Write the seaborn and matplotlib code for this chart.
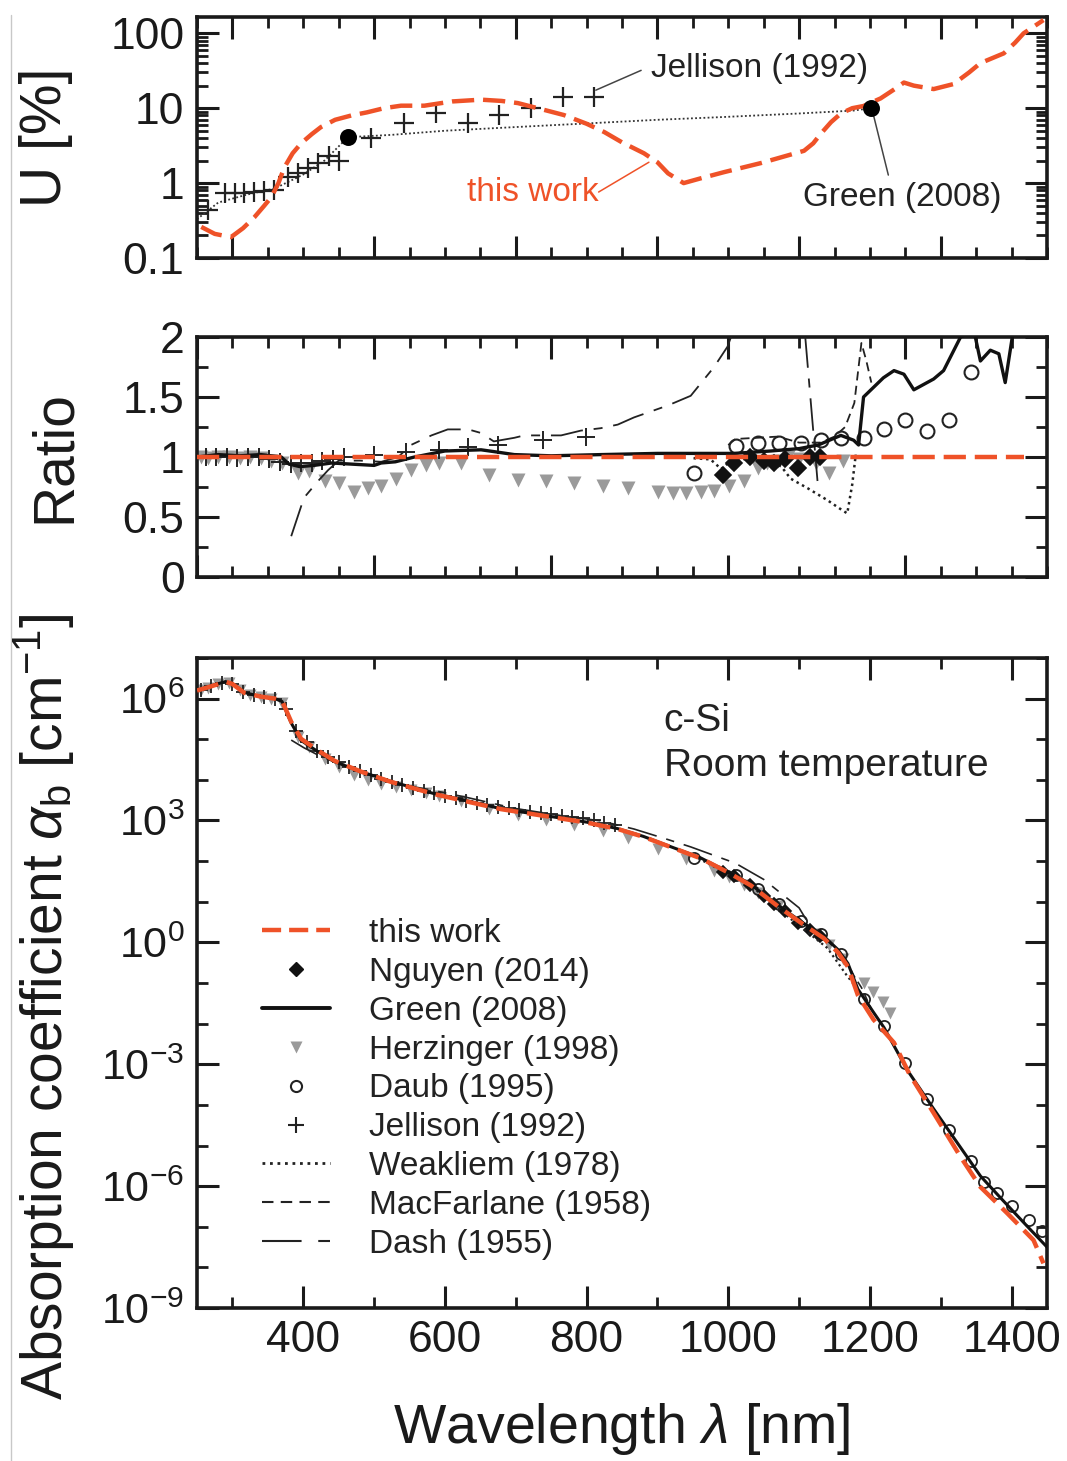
import numpy as np
import matplotlib
matplotlib.use("Agg")
import matplotlib.pyplot as plt
import seaborn as sns
from matplotlib.lines import Line2D
from matplotlib.ticker import FixedLocator, MultipleLocator, NullFormatter, FixedFormatter, LogLocator

# ---------------- data ----------------
# Top panel: relative uncertainty U [%]
this_u_nm = [256, 275, 298, 315, 331, 345, 355, 365, 373, 385, 397, 412, 425, 445, 468, 490, 514, 538, 571,
             610, 651, 680, 703, 740, 768, 800, 825, 850, 881, 900, 915, 937, 960, 994, 1046, 1107, 1120,
             1131, 1145, 1159, 1175, 1191, 1215, 1235, 1248, 1262, 1290, 1318, 1340, 1356, 1389, 1405,
             1417, 1445]
this_u = [0.26, 0.21, 0.19, 0.25, 0.35, 0.5, 0.65, 1.0, 1.6, 2.5, 3.4, 4.5, 5.6, 7.0, 8.0, 8.8, 10.0, 10.8,
          10.8, 12.3, 13.0, 12.5, 11.7, 9.5, 8.1, 6.2, 4.8, 3.5, 2.5, 1.9, 1.35, 1.0, 1.15, 1.4, 1.85, 2.7,
          3.4, 4.6, 6.5, 8.5, 10.0, 10.7, 13.5, 18.0, 22.0, 20.0, 18.0, 21.0, 30.0, 40.0, 54.0, 75.0,
          100.0, 150.0]
green_u_line_nm = [250, 280, 320, 360, 400, 430, 463, 524, 600, 700, 806, 900, 990, 1100, 1177, 1201]
green_u_line = [0.33, 0.55, 0.7, 0.85, 1.3, 2.0, 4.1, 4.4, 5.0, 5.6, 6.3, 7.0, 7.6, 8.5, 9.3, 10.0]
green_u_pts_nm = [463, 1201]
green_u_pts = [4.1, 10.0]
jel_u_nm = [266, 289, 303, 317, 331, 345, 359, 379, 393, 407, 421, 437, 451, 496, 542, 588, 633, 676,
            722, 767, 810]
jel_u = [0.44, 0.74, 0.74, 0.74, 0.76, 0.78, 0.8, 1.2, 1.35, 1.6, 1.85, 2.3, 2.0, 4.0, 6.3, 8.5, 6.3, 8.1,
         10.0, 14.0, 14.0]

# Middle panel: ratio to this work
this_r_nm = [250, 1418]
this_r = [1.0, 1.0]
green_r_nm = [250, 280, 310, 340, 369, 380, 395, 415, 440, 470, 500, 510, 530, 557, 600, 651, 675, 698,
              750, 820, 900, 1008, 1060, 1100, 1127, 1159, 1177, 1184, 1191, 1219, 1234, 1248, 1262, 1290,
              1304, 1328, 1347, 1356, 1370, 1382, 1391, 1401, 1410]
green_r = [1.0, 1.02, 1.01, 1.02, 1.0, 0.94, 0.92, 0.93, 0.95, 0.94, 0.93, 0.95, 0.96, 1.0, 1.05, 1.06, 1.04,
           1.02, 1.01, 1.02, 1.03, 1.03, 1.05, 1.07, 1.1, 1.18, 1.14, 1.1, 1.5, 1.66, 1.72, 1.69, 1.56,
           1.65, 1.72, 2.0, 2.05, 1.8, 1.89, 1.86, 1.62, 2.0, 2.2]
herz_r_nm = [255, 265, 280, 295, 310, 325, 340, 355, 370, 393, 408, 430, 451, 472, 492, 510, 531, 552,
             573, 592, 623, 662, 703, 743, 782, 823, 858, 901, 922, 940, 961, 980, 1001, 1022, 1042, 1055,
             1070, 1085, 1100, 1124, 1142, 1162]
herz_r = [1.0, 0.99, 1.0, 1.0, 0.99, 1.0, 0.99, 0.97, 0.95, 0.87, 0.88, 0.8, 0.78, 0.71, 0.74, 0.76, 0.82,
          0.89, 0.93, 0.95, 0.95, 0.85, 0.81, 0.80, 0.78, 0.76, 0.74, 0.71, 0.70, 0.70, 0.71, 0.72, 0.76,
          0.80, 0.91, 0.95, 0.97, 1.0, 0.98, 0.95, 0.87, 0.97]
daub_r_nm = [951, 1011, 1042, 1071, 1102, 1131, 1159, 1191, 1220, 1250, 1281, 1311, 1342]
daub_r = [0.87, 1.09, 1.12, 1.12, 1.12, 1.14, 1.16, 1.16, 1.23, 1.31, 1.22, 1.31, 1.71]
nguyen_r_nm = [992, 1008, 1030, 1050, 1064, 1080, 1098, 1115, 1130]
nguyen_r = [0.85, 0.95, 1.0, 0.97, 0.95, 0.98, 0.91, 1.0, 1.0]
jel_r_nm = [262, 277, 292, 307, 322, 337, 352, 367, 382, 397, 412, 427, 442, 457, 500, 545, 591, 633, 675,
            738, 799]
jel_r = [1.0, 1.0, 1.0, 0.99, 1.0, 1.0, 0.98, 0.96, 0.94, 0.95, 0.95, 0.97, 0.98, 1.0, 1.02, 1.04, 1.06,
         1.08, 1.1, 1.14, 1.17]
weak_r_nm = [951, 975, 990, 1000, 1020, 1050, 1075, 1088, 1112, 1140, 1160, 1168, 1175, 1180]
weak_r = [0.99, 0.98, 0.9, 0.95, 0.98, 1.0, 0.92, 0.82, 0.74, 0.64, 0.56, 0.53, 0.77, 1.02]
macf_r_nm = [1000, 1010, 1040, 1070, 1100, 1130, 1150, 1165, 1178, 1188, 1195, 1202]
macf_r = [1.1, 1.15, 1.16, 1.17, 1.12, 1.12, 1.17, 1.25, 1.45, 1.95, 1.8, 1.62]
dash_r_nm = [383, 401, 421, 435, 450, 480, 510, 534, 552, 581, 604, 633, 651, 669, 698, 712, 764, 792,
             820, 844, 867, 915, 947, 980, 999, 1010, 1060, 1108, 1126]
dash_r = [0.34, 0.66, 0.8, 0.89, 0.97, 0.97, 0.96, 1.0, 1.1, 1.18, 1.23, 1.23, 1.2, 1.13, 1.16, 1.18, 1.18,
          1.22, 1.24, 1.27, 1.33, 1.43, 1.51, 1.75, 1.92, 2.1, 2.6, 2.05, 0.8]

# Bottom panel: absorption coefficient, log10(alpha / cm^-1)
this_a_nm = [250, 260, 275, 290, 300, 317, 340, 360, 370, 383, 397, 421, 444, 482, 524, 585, 633, 679, 745,
             800, 844, 880, 915, 961, 999, 1032, 1070, 1102, 1135, 1155, 1169, 1183, 1205, 1234, 1256,
             1290, 1328, 1356, 1394, 1431, 1445]
this_a_log = [6.2, 6.25, 6.33, 6.42, 6.36, 6.14, 6.05, 6.0, 5.95, 5.43, 5.01, 4.72, 4.47, 4.2, 3.95, 3.65,
              3.46, 3.28, 3.1, 2.95, 2.79, 2.6, 2.37, 2.07, 1.73, 1.4, 0.89, 0.49, 0.1, -0.25, -0.6, -1.3,
              -1.9, -2.47, -3.25, -4.2, -5.28, -6.02, -6.67, -7.33, -7.9]
green_a_nm = [250, 260, 275, 290, 300, 317, 340, 360, 370, 383, 397, 421, 444, 482, 524, 585, 633, 679, 745,
              800, 844, 880, 915, 961, 999, 1032, 1070, 1102, 1135, 1155, 1169, 1183, 1205, 1220, 1253,
              1290, 1330, 1356, 1385, 1420, 1450]
green_a_log = [6.2, 6.26, 6.34, 6.42, 6.37, 6.15, 6.05, 6.0, 5.93, 5.4, 4.97, 4.69, 4.45, 4.2, 3.96, 3.66,
               3.48, 3.29, 3.11, 2.96, 2.8, 2.61, 2.38, 2.08, 1.74, 1.42, 0.92, 0.52, 0.15, -0.18, -0.52,
               -1.15, -1.72, -2.1, -3.15, -4.1, -5.1, -5.75, -6.3, -6.95, -7.5]
herz_a_nm = [255, 265, 280, 295, 310, 325, 340, 355, 370, 393, 408, 430, 451, 472, 492, 510, 531, 552, 573,
             592, 623, 662, 703, 743, 782, 823, 858, 901, 940, 980, 1001, 1022, 1042, 1070, 1124, 1142,
             1162, 1191, 1205, 1218, 1229]
herz_a_log = [6.22, 6.27, 6.36, 6.38, 6.22, 6.1, 6.05, 6.0, 5.88, 5.06, 4.82, 4.52, 4.31, 4.11, 4.0, 3.9,
              3.82, 3.76, 3.68, 3.61, 3.48, 3.28, 3.13, 3.0, 2.89, 2.75, 2.57, 2.31, 2.05, 1.75, 1.6, 1.4,
              1.22, 0.89, 0.2, -0.06, -0.41, -0.99, -1.23, -1.46, -1.73]
daub_a_nm = [951, 1011, 1042, 1071, 1102, 1131, 1159, 1191, 1220, 1250, 1281, 1311, 1342, 1361, 1380, 1401,
             1424, 1443]
daub_a_log = [2.07, 1.66, 1.31, 0.94, 0.53, 0.21, -0.29, -1.39, -2.06, -2.98, -3.86, -4.63, -5.37, -5.9,
              -6.17, -6.5, -6.84, -7.1]
nguyen_a_nm = [992, 1008, 1030, 1050, 1064, 1080, 1098, 1115, 1130]
nguyen_a_log = [1.73, 1.63, 1.42, 1.14, 0.95, 0.76, 0.48, 0.3, 0.16]
jel_a_nm = [255, 270, 285, 300, 315, 330, 345, 360, 375, 390, 405, 420, 435, 450, 465, 480, 495, 510, 525,
            540, 555, 570, 585, 600, 615, 630, 645, 660, 675, 690, 705, 720, 735, 750, 765, 780, 795, 810,
            825, 840]
jel_a_log = [6.22, 6.3, 6.38, 6.36, 6.17, 6.08, 6.04, 6.0, 5.75, 5.2, 4.92, 4.72, 4.56, 4.43, 4.32, 4.21,
             4.12, 4.03, 3.95, 3.87, 3.8, 3.73, 3.67, 3.61, 3.55, 3.49, 3.43, 3.38, 3.34, 3.3, 3.26, 3.22,
             3.19, 3.15, 3.12, 3.08, 3.05, 3.0, 2.94, 2.88]
weak_a_nm = [951, 990, 1020, 1050, 1088, 1112, 1140, 1168, 1180]
weak_a_log = [2.13, 1.77, 1.52, 1.15, 0.58, 0.25, -0.14, -0.83, -1.09]
macf_a_nm = [1000, 1040, 1070, 1100, 1130, 1150, 1165, 1178, 1188, 1202]
macf_a_log = [1.77, 1.36, 0.97, 0.55, 0.2, -0.13, -0.4, -0.84, -1.11, -1.64]
dash_a_nm = [383, 401, 421, 440, 480, 534, 581, 633, 698, 764, 820, 867, 915, 947, 980, 1010, 1050, 1100,
             1126]
dash_a_log = [4.98, 4.79, 4.61, 4.47, 4.19, 3.9, 3.75, 3.56, 3.3, 3.12, 2.99, 2.79, 2.53, 2.35, 2.14, 1.95,
              1.55, 0.85, 0.1]

legend_labels = ["this work", "Nguyen (2014)", "Green (2008)", "Herzinger (1998)", "Daub (1995)",
                 "Jellison (1992)", "Weakliem (1978)", "MacFarlane (1958)", "Dash (1955)"]

# ---------------- style ----------------
sns.set_theme(style="ticks")
plt.rcParams["font.family"] = ["Liberation Sans", "DejaVu Sans"]
plt.rcParams["mathtext.fontset"] = "custom"
plt.rcParams["mathtext.rm"] = "Liberation Sans"
plt.rcParams["mathtext.it"] = "Liberation Sans:italic"
plt.rcParams["mathtext.bf"] = "Liberation Sans:bold"

ORANGE = "#EF5228"
GRAY = "#9a9a9a"
INK = "#1a1a1a"
DASH_THIS = (0, (5, 2))

W, H = 1067, 1461
fig = plt.figure(figsize=(W / 100, H / 100), dpi=100)


def axpos(l, t, r, b):
    return [l / W, 1 - b / H, (r - l) / W, (b - t) / H]


ax1 = fig.add_axes(axpos(197, 17, 1047, 258))
ax2 = fig.add_axes(axpos(197, 337, 1047, 577))
ax3 = fig.add_axes(axpos(197, 658, 1047, 1308))


def line(ax, x, y, **kw):
    sns.lineplot(x=np.asarray(x, float), y=np.asarray(y, float), ax=ax, estimator=None,
                 errorbar=None, sort=False, legend=False, **kw)


def marks(ax, x, y, marker, ms, mfc, mec, mew=1.2, z=3):
    line(ax, x, y, linestyle="none", marker=marker, markersize=ms, markerfacecolor=mfc,
         markeredgecolor=mec, markeredgewidth=mew, zorder=z)


# ---------------- top panel ----------------
ax1.set_yscale("log")
line(ax1, green_u_line_nm, green_u_line, color="#333333", linewidth=1.3, linestyle=(0, (1, 1.3)), zorder=2)
marks(ax1, jel_u_nm, jel_u, "+", 14, "none", "#222222", mew=1.6)
marks(ax1, green_u_pts_nm, green_u_pts, "o", 11, "black", "black", z=5)
line(ax1, this_u_nm, this_u, color=ORANGE, linewidth=3.2, linestyle=DASH_THIS, zorder=4)
ax1.set_xlim(250, 1450)
ax1.set_ylim(0.1, 165)
ax1.xaxis.set_major_locator(FixedLocator([300, 500, 700, 900, 1100, 1300]))
ax1.xaxis.set_minor_locator(MultipleLocator(50))
ax1.tick_params(axis="x", which="both", labelbottom=False)
ax1.yaxis.set_major_locator(FixedLocator([0.1, 1, 10, 100]))
ax1.yaxis.set_major_formatter(FixedFormatter(["0.1", "1", "10", "100"]))
ax1.yaxis.set_minor_locator(LogLocator(base=10, subs=np.arange(2, 10), numticks=20))
ax1.yaxis.set_minor_formatter(NullFormatter())

ann_kw = dict(arrowprops=dict(arrowstyle="-", color="#444444", lw=1.1, shrinkA=0, shrinkB=0))
ax1.annotate("", xy=(813, 17.4), xytext=(877, 32), **ann_kw)
ax1.text(891, 34, "Jellison (1992)", fontsize=24, color="#222222", ha="left", va="center")
ax1.annotate("", xy=(888, 1.9), xytext=(817, 0.76),
             arrowprops=dict(arrowstyle="-", color=ORANGE, lw=1.1, shrinkA=0, shrinkB=0))
ax1.text(724, 0.76, "this work", fontsize=24, color=ORANGE, ha="center", va="center")
ax1.annotate("", xy=(1204, 8.85), xytext=(1226, 1.28), **ann_kw)
ax1.text(1245, 0.65, "Green (2008)", fontsize=24, color="#222222", ha="center", va="center")

# ---------------- middle panel ----------------
line(ax2, herz_r_nm, herz_r, linestyle="none", marker="v", markersize=10, markerfacecolor=GRAY,
     markeredgecolor="none", zorder=2)
line(ax2, dash_r_nm, dash_r, color="#222222", linewidth=1.3, linestyle=(0, (18, 6, 5, 6)), zorder=3)
line(ax2, macf_r_nm, macf_r, color="#222222", linewidth=1.3, linestyle=(0, (5, 3)), zorder=3)
line(ax2, weak_r_nm, weak_r, color="#222222", linewidth=1.8, linestyle=(0, (1, 1.5)), zorder=3)
marks(ax2, jel_r_nm, jel_r, "+", 13, "none", "#222222", mew=1.4)
marks(ax2, daub_r_nm, daub_r, "o", 10, "none", "#222222", mew=1.5)
marks(ax2, nguyen_r_nm, nguyen_r, "D", 8, "#111111", "#111111")
line(ax2, green_r_nm, green_r, color="#111111", linewidth=2.4, zorder=4)
line(ax2, this_r_nm, this_r, color=ORANGE, linewidth=3.2, linestyle=DASH_THIS, zorder=5)
ax2.set_xlim(250, 1450)
ax2.set_ylim(0, 2)
ax2.xaxis.set_major_locator(FixedLocator([250, 500, 750, 1000, 1250]))
ax2.xaxis.set_minor_locator(MultipleLocator(50))
ax2.tick_params(axis="x", which="both", labelbottom=False)
ax2.yaxis.set_major_locator(FixedLocator([0, 0.5, 1, 1.5, 2]))
ax2.yaxis.set_major_formatter(FixedFormatter(["0", "0.5", "1", "1.5", "2"]))
ax2.yaxis.set_minor_locator(MultipleLocator(0.25))

# ---------------- bottom panel ----------------
ax3.set_yscale("log")
line(ax3, herz_a_nm, 10.0 ** np.array(herz_a_log), linestyle="none", marker="v", markersize=8,
     markerfacecolor=GRAY, markeredgecolor="none", zorder=2)
marks(ax3, jel_a_nm, 10.0 ** np.array(jel_a_log), "+", 10, "none", "#222222", mew=1.3)
marks(ax3, daub_a_nm, 10.0 ** np.array(daub_a_log), "o", 8, "none", "#222222", mew=1.3)
marks(ax3, nguyen_a_nm, 10.0 ** np.array(nguyen_a_log), "D", 6, "#111111", "#111111")
line(ax3, dash_a_nm, 10.0 ** np.array(dash_a_log), color="#222222", linewidth=1.2,
     linestyle=(0, (18, 6, 5, 6)), zorder=3)
line(ax3, macf_a_nm, 10.0 ** np.array(macf_a_log), color="#222222", linewidth=1.2,
     linestyle=(0, (5, 3)), zorder=3)
line(ax3, weak_a_nm, 10.0 ** np.array(weak_a_log), color="#222222", linewidth=1.6,
     linestyle=(0, (1, 1.5)), zorder=3)
line(ax3, green_a_nm, 10.0 ** np.array(green_a_log), color="#111111", linewidth=2.2, zorder=4)
line(ax3, this_a_nm, 10.0 ** np.array(this_a_log), color=ORANGE, linewidth=3.2, linestyle=DASH_THIS,
     zorder=5)
ax3.set_xlim(250, 1450)
ax3.set_ylim(1e-9, 1e7)
ax3.xaxis.set_major_locator(FixedLocator([400, 600, 800, 1000, 1200, 1400]))
ax3.xaxis.set_minor_locator(MultipleLocator(100))
ax3.yaxis.set_major_locator(FixedLocator(10.0 ** np.arange(-9, 7, 3)))
ax3.yaxis.set_major_formatter(FixedFormatter([r"$10^{%d}$" % k for k in range(-9, 7, 3)]))
ax3.yaxis.set_minor_locator(FixedLocator(10.0 ** np.arange(-9, 8)))
ax3.yaxis.set_minor_formatter(NullFormatter())

ax3.text(909, 1.62e5, "c-Si", fontsize=28, color="#222222", ha="left", va="baseline")
ax3.text(909, 1.26e4, "Room temperature", fontsize=28, color="#222222", ha="left", va="baseline")

handles = [
    Line2D([], [], color=ORANGE, lw=3.2, ls=(0, (4.3, 1.8))),
    Line2D([], [], ls="none", marker="D", ms=7, mfc="#111111", mec="#111111"),
    Line2D([], [], color="#111111", lw=2.8),
    Line2D([], [], ls="none", marker="v", ms=9, mfc=GRAY, mec="none"),
    Line2D([], [], ls="none", marker="o", ms=8, mfc="none", mec="#222222", mew=1.5),
    Line2D([], [], ls="none", marker="+", ms=12, mec="#222222", mew=1.5),
    Line2D([], [], color="#222222", lw=2.0, ls=(0, (1, 1.7))),
    Line2D([], [], color="#222222", lw=1.5, ls=(0, (5.5, 3.5))),
    Line2D([], [], color="#222222", lw=1.5, ls=(0, (19, 8, 6, 8))),
]
ax3.legend(handles, legend_labels, loc="upper left", bbox_to_anchor=(262 / W, 1 - 918 / H),
           bbox_transform=fig.transFigure, frameon=False, fontsize=24, handlelength=2.05,
           handletextpad=1.15, labelspacing=0.235, borderpad=0, borderaxespad=0, numpoints=1,
           labelcolor="#222222")

# ---------------- common axis styling ----------------
for ax in (ax1, ax2, ax3):
    ax.set_xlabel("")
    ax.set_ylabel("")
    ax.tick_params(which="both", direction="in", top=True, right=True, colors=INK, labelcolor=INK)
    ax.tick_params(which="major", length=16, width=2.2, labelsize=32, pad=9)
    ax.tick_params(which="minor", length=8, width=2.0)
    for s in ax.spines.values():
        s.set_linewidth(2.6)
        s.set_color(INK)
ax3.tick_params(axis="y", which="major", labelsize=31)

fig.text(46 / W, 1 - 137 / H, "U [%]", rotation=90, ha="center", va="center", fontsize=41, color=INK)
fig.text(55 / W, 1 - 457 / H, "Ratio", rotation=90, ha="center", va="center", fontsize=41, color=INK)
fig.text(44 / W, 1 - 1007 / H, r"Absorption coefficient $\alpha_\mathrm{b}$ [cm$^{-1}$]", rotation=90,
         ha="center", va="center", fontsize=41, color=INK)
fig.text(622 / W, 1 - 1443 / H, r"Wavelength $\lambda$ [nm]", ha="center", va="baseline", fontsize=40,
         color=INK)

fig.add_artist(Line2D([11 / W, 11 / W], [0, 1 - 15 / H], transform=fig.transFigure, color="#c8c8c8", lw=1))

fig.savefig("out.png", dpi=100)
